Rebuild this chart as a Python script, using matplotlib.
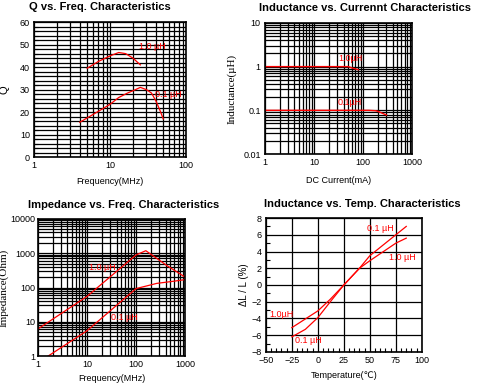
import matplotlib
matplotlib.use("Agg")
import matplotlib.pyplot as plt
from matplotlib.ticker import FixedLocator, NullFormatter, MultipleLocator

plt.rcParams['font.family'] = ['Liberation Sans', 'DejaVu Sans']

# Q vs freq
q_f_10 = [5, 7, 10, 13, 16, 20, 25]
q_10 = [39.5, 42.5, 45, 46.5, 46, 44, 41]
q_f_01 = [4, 6, 8, 10, 13, 17, 20, 25, 30, 35, 40, 45, 50]
q_01 = [15.5, 19, 21.5, 23.5, 26.5, 28.5, 29.5, 31, 30, 28.5, 25, 21, 17]

# Inductance vs DC current
l_i_10 = [1, 50, 60, 80]
l_10 = [1.0, 1.0, 0.93, 0.85]
l_i_01 = [1, 130, 180, 200, 300]
l_01 = [0.1, 0.1, 0.098, 0.095, 0.078]

# Impedance vs freq
z_f_10 = [1, 10, 100, 158, 425, 1000]
z_10 = [6.2, 55, 890, 1180, 435, 200]
z_f_01 = [1.6, 10, 100, 265, 580, 1000]
z_01 = [1.0, 5.5, 93, 132, 152, 170]

# Inductance vs temperature
t_01 = [-25, -12, 0, 12, 25, 40, 50, 75, 85]
dl_01 = [-6.2, -5.3, -3.9, -2.0, 0, 2.0, 3.5, 6.0, 7.0]
t_10 = [-25, 0, 12, 25, 40, 50, 75, 85]
dl_10 = [-5.1, -3.1, -1.7, 0, 2.0, 2.9, 5.0, 5.6]

RED = '#ff0000'
fig = plt.figure(figsize=(4.86, 3.88), dpi=100)

def log_grid(ax, axis, lo, hi):
    major = []
    minor = []
    d = lo
    while d <= hi:
        major.append(d)
        if d < hi:
            minor += [d * k for k in range(2, 10)]
        d *= 10
    if axis == 'x':
        ax.xaxis.set_major_locator(FixedLocator(major))
        ax.xaxis.set_minor_locator(FixedLocator(minor))
        ax.xaxis.set_minor_formatter(NullFormatter())
        ax.set_xticklabels(['%g' % m for m in major])
    else:
        ax.yaxis.set_major_locator(FixedLocator(major))
        ax.yaxis.set_minor_locator(FixedLocator(minor))
        ax.yaxis.set_minor_formatter(NullFormatter())
        ax.set_yticklabels(['%g' % m for m in major])

def style(ax):
    ax.grid(True, which='both', color='black', linewidth=0.9)
    ax.set_axisbelow(True)
    for s in ax.spines.values():
        s.set_linewidth(1.2)
    ax.tick_params(which='both', length=0, labelsize=6.5, pad=3)

# plot 1
ax1 = fig.add_axes([0.070, 0.595, 0.313, 0.348])
ax1.plot(q_f_10, q_10, color=RED, lw=0.9)
ax1.plot(q_f_01, q_01, color=RED, lw=0.9)
ax1.set_xscale('log')
ax1.set_xlim(1, 100)
ax1.set_ylim(0, 60)
log_grid(ax1, 'x', 1, 100)
ax1.yaxis.set_major_locator(MultipleLocator(10))
style(ax1)
ax1.xaxis.grid(True, which='both')
ax1.yaxis.grid(True, which='major')
ax1.yaxis.set_minor_locator(MultipleLocator(2))
ax1.tick_params(axis='y', which='minor', direction='in', length=3, width=0.8)
ax1.set_xlabel('Frequency(MHz)', fontsize=6.5, labelpad=5)
ax1.set_ylabel('Q', fontsize=8)
ax1.yaxis.set_label_coords(-0.16, 0.5)
ax1.text(24, 49, '1.0 µH', color=RED, fontsize=6.5, va='center')
ax1.text(39, 28, '0.1 µH', color=RED, fontsize=6.5, va='center')
fig.text(0.205, 0.982, 'Q vs. Freq. Characteristics', fontsize=8, weight='bold', ha='center', va='center')

# plot 2
ax2 = fig.add_axes([0.545, 0.603, 0.303, 0.338])
ax2.plot(l_i_10, l_10, color=RED, lw=1.0)
ax2.plot(l_i_01, l_01, color=RED, lw=1.0)
ax2.set_xscale('log')
ax2.set_yscale('log')
ax2.set_xlim(1, 1000)
ax2.set_ylim(0.01, 10)
log_grid(ax2, 'x', 1, 1000)
log_grid(ax2, 'y', 0.01, 10)
style(ax2)
ax2.set_xlabel('DC Current(mA)', fontsize=6.5, labelpad=6)
ax2.set_ylabel('Inductance(µH)', fontsize=8, family=['Liberation Serif', 'DejaVu Serif'])
ax2.yaxis.set_label_coords(-0.19, 0.5)
ax2.text(32, 1.5, '1.0µH', color=RED, fontsize=6.5, va='center')
ax2.text(30, 0.155, '0.1µH', color=RED, fontsize=6.5, va='center')
fig.text(0.75, 0.98, 'Inductance vs. Currennt Characteristics', fontsize=8, weight='bold', ha='center', va='center')

# plot 3
ax3 = fig.add_axes([0.078, 0.082, 0.303, 0.354])
ax3.plot(z_f_10, z_10, color=RED, lw=0.9)
ax3.plot(z_f_01, z_01, color=RED, lw=0.9)
ax3.set_xscale('log')
ax3.set_yscale('log')
ax3.set_xlim(1, 1000)
ax3.set_ylim(1, 10000)
log_grid(ax3, 'x', 1, 1000)
log_grid(ax3, 'y', 1, 10000)
style(ax3)
ax3.tick_params(axis='y', pad=2)
ax3.set_xlabel('Frequency(MHz)', fontsize=6.5, labelpad=3)
ax3.set_ylabel('Impedance(Ohm)', fontsize=8, family=['Liberation Serif', 'DejaVu Serif'])
ax3.yaxis.set_label_coords(-0.2, 0.5)
ax3.text(11, 390, '1.0 µH', color=RED, fontsize=6.5, va='center')
ax3.text(31, 13, '0.1 µH', color=RED, fontsize=6.5, va='center')
fig.text(0.255, 0.472, 'Impedance vs. Freq. Characteristics', fontsize=8, weight='bold', ha='center', va='center')

# plot 4
ax4 = fig.add_axes([0.547, 0.093, 0.321, 0.345])
ax4.plot(t_01, dl_01, color=RED, lw=0.9)
ax4.plot(t_10, dl_10, color=RED, lw=0.9)
ax4.set_xlim(-50, 100)
ax4.set_ylim(-8, 8)
ax4.xaxis.set_major_locator(MultipleLocator(25))
ax4.yaxis.set_major_locator(MultipleLocator(2))
style(ax4)
ax4.grid(True, which='major')
ax4.xaxis.set_minor_locator(MultipleLocator(5))
ax4.yaxis.set_minor_locator(MultipleLocator(1))
ax4.grid(False, which='minor')
ax4.tick_params(which='minor', direction='in', length=3, width=0.8)
ax4.set_xlabel('Temperature(℃)', fontsize=6.5, labelpad=4)
ax4.set_ylabel('ΔL / L (%)', fontsize=7)
ax4.yaxis.set_label_coords(-0.11, 0.5)
ax4.text(47, 6.7, '0.1 µH', color=RED, fontsize=6.5, va='center')
ax4.text(68, 3.3, '1.0 µH', color=RED, fontsize=6.5, va='center')
ax4.text(-47, -3.5, '1.0µH', color=RED, fontsize=6.5, va='center')
ax4.text(-22, -6.6, '0.1 µH', color=RED, fontsize=6.5, va='center')
fig.text(0.745, 0.474, 'Inductance vs. Temp. Characteristics', fontsize=8, weight='bold', ha='center', va='center')

fig.savefig('out.png', dpi=100)
